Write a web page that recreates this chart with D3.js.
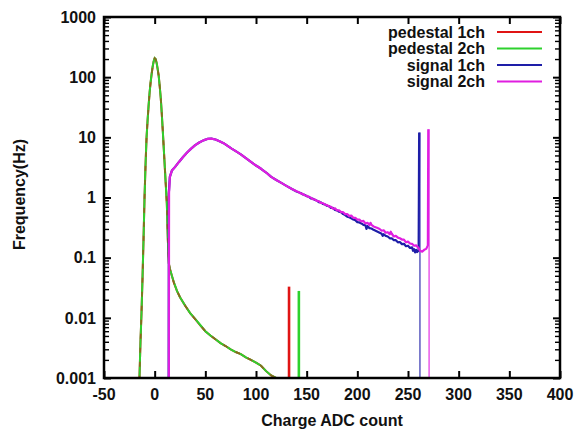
<!DOCTYPE html>
<html>
<head>
<meta charset="utf-8">
<script src="https://cdn.jsdelivr.net/npm/d3@7"></script>
<style>
body { margin: 0; background: #fff; }
svg text { font-family: "Liberation Sans", Arial, sans-serif; font-weight: bold; font-size: 16px; fill: #111; }
</style>
</head>
<body>
<svg id="chart" width="576" height="432"></svg>
<script>
// values
var xTicks = [-50, 0, 50, 100, 150, 200, 250, 300, 350, 400];
var yTicks = [0.001, 0.01, 0.1, 1, 10, 100, 1000];
var yTickLabels = ["0.001", "0.01", "0.1", "1", "10", "100", "1000"];
var seriesNames = ["pedestal 1ch", "pedestal 2ch", "signal 1ch", "signal 2ch"];
var seriesColors = ["#e01414", "#2ed12e", "#1e1ea8", "#e01ee0"];

var pedestal1 = [[-15.5, 0.0009], [-15, 0.001], [-14, 0.004], [-13, 0.012], [-12, 0.045], [-11, 0.2], [-10, 1.0],
    [-9, 3.5], [-8, 10], [-7, 19], [-6, 33], [-5, 55], [-4, 82], [-3, 112], [-2, 148], [-1, 182], [0, 206],
    [1, 198], [2, 170], [3, 135], [4, 105], [5, 70], [6, 45], [7, 25], [8, 13], [9, 6.5], [10, 3.2], [11, 1.6],
    [12, 0.8], [13, 0.2], [14, 0.08], [15, 0.065], [17, 0.05], [19, 0.038], [22, 0.028], [25, 0.022],
    [30, 0.016], [35, 0.012], [40, 0.0095], [45, 0.0075], [50, 0.006], [55, 0.0051], [60, 0.0044],
    [65, 0.0038], [70, 0.0034], [75, 0.003], [80, 0.0027], [85, 0.0025], [90, 0.0022], [95, 0.002],
    [100, 0.0018], [105, 0.0016], [110, 0.0013], [115, 0.0011], [120, 0.001], [122, 0.0009]];
var pedestal2 = [[-15.5, 0.0009], [-15, 0.001], [-14, 0.004], [-13, 0.012], [-12, 0.046], [-11, 0.2], [-10, 1.0],
    [-9, 3.6], [-8, 10], [-7, 19], [-6, 34], [-5, 56], [-4, 83], [-3, 113], [-2, 150], [-1, 184], [0, 208],
    [1, 200], [2, 171], [3, 136], [4, 104], [5, 70], [6, 45], [7, 25], [8, 13], [9, 6.4], [10, 3.2], [11, 1.6],
    [12, 0.8], [13, 0.2], [14, 0.08], [15, 0.066], [17, 0.05], [19, 0.039], [22, 0.028], [25, 0.022],
    [30, 0.016], [35, 0.012], [40, 0.0096], [45, 0.0076], [50, 0.006], [55, 0.0051], [60, 0.0044],
    [65, 0.0038], [70, 0.0034], [75, 0.003], [80, 0.0027], [85, 0.0025], [90, 0.0022], [95, 0.002],
    [100, 0.0018], [105, 0.0016], [110, 0.0013], [115, 0.0011], [120, 0.001], [122, 0.0009]];
// narrow peaks at the end of the pedestal runs: [x, top]
var pedestalSpike1 = [132.6, 0.033];
var pedestalSpike2 = [142.3, 0.028];

var signal1 = [[13.8, 0.0009], [14, 1.2], [15, 2.2], [17, 2.8], [20, 3.2], [24, 3.9], [28, 4.7], [32, 5.6],
    [36, 6.5], [40, 7.4], [44, 8.2], [48, 8.9], [52, 9.4], [56, 9.5], [60, 9.2], [64, 8.6], [68, 8.0],
    [72, 7.2], [76, 6.5], [80, 5.9], [85, 5.2], [90, 4.5], [95, 3.9], [100, 3.4], [105, 3.0], [110, 2.6],
    [115, 2.2], [120, 1.95], [125, 1.75], [130, 1.56], [135, 1.4],
    [140, 1.26], [142, 1.22], [144, 1.19], [146, 1.13], [148, 1.11], [150, 1.05], [152, 1.03], [154, 0.97],
    [156, 0.96], [158, 0.91], [160, 0.89], [162, 0.84], [164, 0.83], [166, 0.78], [168, 0.77], [170, 0.73],
    [172, 0.72], [174, 0.67], [176, 0.67], [178, 0.62], [180, 0.61], [182, 0.58], [184, 0.57], [186, 0.53],
    [188, 0.51], [190, 0.48], [192, 0.47], [194, 0.45], [196, 0.43], [198, 0.42], [200, 0.39], [202, 0.385],
    [204, 0.37], [206, 0.35], [208, 0.345], [209, 0.3], [210, 0.335], [212, 0.31], [214, 0.305], [216, 0.29],
    [218, 0.28], [220, 0.27], [222, 0.26], [224, 0.25], [225, 0.23], [226, 0.245], [228, 0.23], [230, 0.225],
    [232, 0.21], [234, 0.21], [236, 0.195], [238, 0.195], [240, 0.18], [242, 0.182], [244, 0.168], [246, 0.17],
    [248, 0.155], [250, 0.158], [252, 0.145], [254, 0.148], [255, 0.13], [256, 0.138], [257, 0.122],
    [258, 0.135], [259, 0.124], [260.5, 0.132], [261, 12]];
var signal2 = [[14, 0.0009], [14.2, 1.2], [15, 2.2], [17, 2.8], [20, 3.2], [24, 3.9], [28, 4.7], [32, 5.6],
    [36, 6.5], [40, 7.4], [44, 8.2], [48, 8.9], [52, 9.4], [56, 9.5], [60, 9.2], [64, 8.6], [68, 8.0],
    [72, 7.2], [76, 6.5], [80, 5.9], [85, 5.2], [90, 4.5], [95, 3.9], [100, 3.4], [105, 3.0], [110, 2.6],
    [115, 2.2], [120, 1.95], [125, 1.75], [130, 1.56], [135, 1.4],
    [140, 1.27], [142, 1.23], [144, 1.17], [146, 1.15], [148, 1.09], [150, 1.07], [152, 1.02], [154, 1.0],
    [156, 0.94], [158, 0.93], [160, 0.88], [162, 0.87], [164, 0.81], [166, 0.81], [168, 0.76], [170, 0.75],
    [172, 0.71], [174, 0.7], [176, 0.65], [178, 0.66], [180, 0.61], [182, 0.61], [184, 0.57], [186, 0.57],
    [188, 0.53], [190, 0.53], [192, 0.49], [194, 0.5], [196, 0.46], [198, 0.46], [200, 0.43], [202, 0.43],
    [204, 0.4], [206, 0.41], [208, 0.37], [210, 0.38], [212, 0.35], [213, 0.38], [214, 0.35], [216, 0.33],
    [218, 0.32], [220, 0.31], [222, 0.3], [224, 0.28], [226, 0.285], [228, 0.26], [230, 0.265], [232, 0.245],
    [233, 0.27], [234, 0.25], [236, 0.225], [238, 0.23], [240, 0.215], [242, 0.21], [244, 0.2], [246, 0.2],
    [248, 0.18], [250, 0.185], [252, 0.172], [254, 0.17], [256, 0.158], [258, 0.16], [260, 0.148],
    [262, 0.13], [264, 0.126], [266, 0.135], [268, 0.14], [269.6, 0.16], [270, 13.6]];
// fall back to zero right after the last bin: [x, from]
var signalDrop1 = [261.8, 12];
var signalDrop2 = [270.8, 13.6];

var svg = d3.select("#chart"),
    margin = {top: 17, right: 16, bottom: 54, left: 104},
    width = 576 - margin.left - margin.right,
    height = 432 - margin.top - margin.bottom;

var x = d3.scaleLinear().domain([-50, 400]).range([margin.left, margin.left + width]);
var y = d3.scaleLog().domain([0.001, 1000]).range([margin.top + height, margin.top]);

svg.append("rect").attr("width", 576).attr("height", 432).attr("fill", "#fff");

svg.append("clipPath").attr("id", "plotclip")
    .append("rect")
    .attr("x", margin.left).attr("y", margin.top)
    .attr("width", width).attr("height", height);

// minor ticks on log axis
var minorTicks = y.ticks().filter(function(d) {
    return yTicks.every(function(t) { return Math.abs(t - d) / t > 1e-6; });
});

function drawTicks(axis, translate, values, size, w) {
    svg.append("g").attr("transform", translate)
        .call(axis.tickValues(values).tickSize(size).tickFormat(""))
        .call(function(g) {
            g.select(".domain").remove();
            g.selectAll("line").attr("stroke", "#000").attr("stroke-width", w);
        });
}
drawTicks(d3.axisBottom(x), "translate(0," + (margin.top + height) + ")", xTicks, -7, 2);
drawTicks(d3.axisTop(x), "translate(0," + margin.top + ")", xTicks, -7, 2);
drawTicks(d3.axisLeft(y), "translate(" + margin.left + ",0)", yTicks, -7, 2);
drawTicks(d3.axisRight(y), "translate(" + (margin.left + width) + ",0)", yTicks, -7, 2);
drawTicks(d3.axisLeft(y), "translate(" + margin.left + ",0)", minorTicks, -5, 1.4);
drawTicks(d3.axisRight(y), "translate(" + (margin.left + width) + ",0)", minorTicks, -5, 1.4);

// tick labels
svg.append("g").selectAll("text")
    .data(xTicks)
    .enter().append("text")
    .attr("x", function(d) { return x(d); })
    .attr("y", margin.top + height + 22)
    .attr("text-anchor", "middle")
    .text(function(d) { return d; });
svg.append("g").selectAll("text")
    .data(yTicks)
    .enter().append("text")
    .attr("x", margin.left - 8)
    .attr("y", function(d) { return y(d); })
    .attr("dy", "0.36em")
    .attr("text-anchor", "end")
    .text(function(d, i) { return yTickLabels[i]; });

svg.append("text")
    .attr("x", margin.left + width / 2)
    .attr("y", 426)
    .attr("text-anchor", "middle")
    .text("Charge ADC count");
svg.append("text")
    .attr("transform", "translate(25," + (margin.top + height / 2 - 3) + ") rotate(-90)")
    .attr("text-anchor", "middle")
    .text("Frequency(Hz)");

// data
var plot = svg.append("g").attr("clip-path", "url(#plotclip)");
var line = d3.line()
    .x(function(d) { return x(d[0]); })
    .y(function(d) { return y(d[1]); });

function spike(s, color, w) {
    plot.append("line")
        .attr("x1", x(s[0])).attr("x2", x(s[0]))
        .attr("y1", y(0.001)).attr("y2", y(s[1]))
        .attr("stroke", color).attr("stroke-width", w);
}

plot.append("path").datum(pedestal1)
    .attr("d", line).attr("fill", "none")
    .attr("stroke", seriesColors[0]).attr("stroke-width", 2);
spike(pedestalSpike1, seriesColors[0], 2.6);
plot.append("path").datum(pedestal2)
    .attr("d", line).attr("fill", "none")
    .attr("stroke", seriesColors[1]).attr("stroke-width", 2);
spike(pedestalSpike2, seriesColors[1], 2.6);
// red run shows through the green one in short brownish pieces
plot.append("path").datum(pedestal1)
    .attr("d", line).attr("fill", "none")
    .attr("stroke", "#a0501a").attr("stroke-opacity", 0.85)
    .attr("stroke-width", 1.5).attr("stroke-dasharray", "5,9");

plot.append("path").datum(signal1)
    .attr("d", line).attr("fill", "none")
    .attr("stroke", seriesColors[2]).attr("stroke-width", 2.2).attr("stroke-linejoin", "round");
spike(signalDrop1, seriesColors[2], 1.1);
plot.append("path").datum(signal2)
    .attr("d", line).attr("fill", "none")
    .attr("stroke", seriesColors[3]).attr("stroke-width", 2.2).attr("stroke-linejoin", "round");
spike(signalDrop2, seriesColors[3], 1.1);

// frame
svg.append("rect")
    .attr("x", margin.left).attr("y", margin.top)
    .attr("width", width).attr("height", height)
    .attr("fill", "none").attr("stroke", "#000").attr("stroke-width", 2.5);

// legend
var legend = svg.append("g").selectAll("g")
    .data(seriesNames)
    .enter().append("g")
    .attr("transform", function(d, i) { return "translate(0," + (32 + i * 16.5) + ")"; });
legend.append("text")
    .attr("x", 485).attr("dy", "0.35em")
    .attr("text-anchor", "end")
    .text(function(d) { return d; });
legend.append("line")
    .attr("x1", 497).attr("x2", 542)
    .attr("stroke", function(d, i) { return seriesColors[i]; })
    .attr("stroke-width", 2);
</script>
</body>
</html>
